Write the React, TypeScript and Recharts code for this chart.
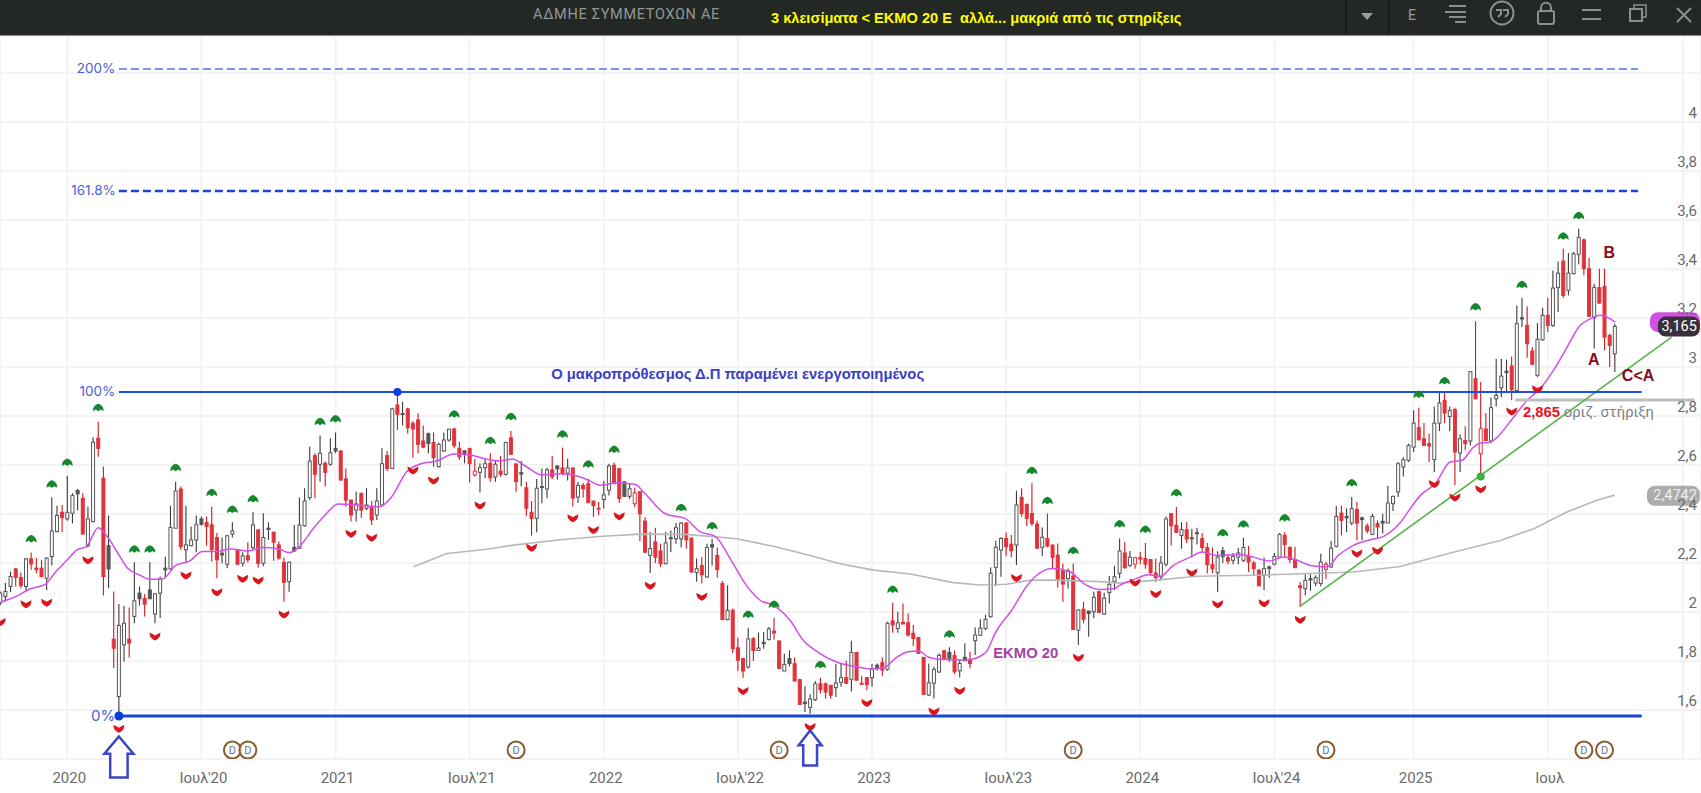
import React from 'react';
import {
  ComposedChart,
  Bar,
  Line,
  Scatter,
  XAxis,
  YAxis,
  CartesianGrid,
  ReferenceDot,
} from 'recharts';

// weekly candles: [open, high, low, close]
type Ohlc = [number, number, number, number];

const firstWeek = -13; // week 0 is the first week of 2020

const bars2020: Ohlc[] = [
  [2.036,2.084,2.029,2.077],[2.063,2.118,2.043,2.084],[2.104,2.165,2.081,2.145],[2.176,2.179,2.104,2.141],
  [2.141,2.161,2.097,2.108],[2.104,2.220,2.084,2.217],[2.217,2.243,2.172,2.196],[2.179,2.220,2.158,2.173],
  [2.179,2.213,2.141,2.145],[2.138,2.222,2.090,2.220],[2.226,2.468,2.190,2.331],[2.328,2.434,2.326,2.394],
  [2.407,2.437,2.326,2.385],[2.380,2.556,2.372,2.407],[2.403,2.485,2.362,2.475],[2.496,2.502,2.414,2.482],
  [2.464,2.485,2.318,2.318],[2.271,2.430,2.263,2.380],[2.369,2.713,2.366,2.693],[2.709,2.777,2.634,2.668],
  [2.546,2.594,2.067,2.145],[2.271,2.394,2.097,2.176],[1.889,2.084,1.771,1.852],[1.655,2.033,1.578,1.945],
  [1.866,2.026,1.798,1.954],[1.889,2.018,1.814,1.873],[1.982,2.203,1.954,2.046],[2.077,2.104,2.026,2.054],
  [2.056,2.073,1.982,2.032],[2.090,2.203,2.054,2.054],[1.992,2.077,1.954,2.074],[2.077,2.145,1.975,2.135],
  [2.179,2.226,2.138,2.172],[2.176,2.434,2.173,2.345],[2.342,2.532,2.342,2.494],[2.502,2.512,2.254,2.267],
  [2.254,2.434,2.199,2.274],[2.271,2.349,2.267,2.294],[2.294,2.394,2.244,2.356],[2.380,2.390,2.353,2.358],
  [2.365,2.390,2.271,2.349],[2.356,2.430,2.206,2.254],[2.304,2.322,2.138,2.213],[2.240,2.304,2.199,2.233],
  [2.195,2.315,2.179,2.311],[2.318,2.366,2.304,2.331],[2.254,2.258,2.192,2.195],[2.199,2.244,2.186,2.229],
  [2.230,2.285,2.202,2.213],[2.263,2.407,2.254,2.356],[2.335,2.339,2.181,2.199],[2.199,2.403,2.187,2.304],
  [2.342,2.366,2.294,2.337],[2.326,2.326,2.209,2.285],[2.274,2.288,2.213,2.220],
];

const bars2021: Ohlc[] = [
  [2.203,2.222,2.042,2.121],[2.124,2.206,2.083,2.203],[2.264,2.355,2.246,2.249],[2.260,2.467,2.257,2.355],
  [2.352,2.505,2.348,2.453],[2.467,2.675,2.457,2.616],[2.638,2.648,2.464,2.562],[2.603,2.720,2.532,2.648],
  [2.607,2.614,2.512,2.570],[2.603,2.709,2.597,2.650],[2.668,2.733,2.648,2.657],[2.657,2.660,2.535,2.539],
  [2.543,2.586,2.430,2.457],[2.457,2.457,2.369,2.396],[2.416,2.491,2.369,2.441],[2.484,2.488,2.385,2.416],
  [2.423,2.505,2.416,2.437],[2.426,2.453,2.355,2.376],[2.396,2.505,2.376,2.453],[2.437,2.668,2.434,2.605],
  [2.638,2.657,2.575,2.586],[2.586,2.834,2.586,2.829],[2.845,2.886,2.743,2.807],[2.810,2.858,2.761,2.808],
  [2.829,2.834,2.729,2.752],[2.770,2.780,2.630,2.747],[2.784,2.811,2.648,2.684],[2.698,2.761,2.668,2.673],
  [2.728,2.733,2.648,2.688],[2.692,2.733,2.593,2.630],[2.593,2.692,2.590,2.684],[2.657,2.733,2.654,2.702],
  [2.702,2.747,2.695,2.746],[2.747,2.752,2.668,2.679],[2.668,2.695,2.620,2.634],[2.658,2.658,2.607,2.645],
  [2.668,2.668,2.529,2.605],[2.559,2.624,2.552,2.575],[2.570,2.607,2.488,2.589],[2.589,2.624,2.546,2.605],
  [2.607,2.648,2.532,2.548],[2.551,2.616,2.532,2.603],[2.575,2.638,2.552,2.562],[2.562,2.695,2.556,2.692],
  [2.711,2.739,2.641,2.644],[2.604,2.607,2.491,2.532],[2.569,2.616,2.512,2.563],[2.507,2.532,2.393,2.423],
  [2.407,2.453,2.312,2.382],[2.382,2.543,2.325,2.505],[2.512,2.586,2.444,2.508],[2.502,2.589,2.464,2.580],
  [2.580,2.637,2.543,2.552],[2.596,2.600,2.541,2.584],
];

const bars2022: Ohlc[] = [
  [2.588,2.671,2.558,2.565],[2.567,2.626,2.537,2.588],[2.588,2.589,2.431,2.465],[2.469,2.531,2.445,2.517],
  [2.517,2.527,2.467,2.503],[2.524,2.544,2.445,2.446],[2.453,2.453,2.388,2.434],[2.424,2.449,2.395,2.420],
  [2.459,2.535,2.422,2.478],[2.497,2.605,2.476,2.596],[2.599,2.610,2.521,2.524],[2.585,2.585,2.445,2.463],
  [2.531,2.535,2.469,2.472],[2.472,2.524,2.461,2.503],[2.442,2.507,2.429,2.486],[2.491,2.493,2.290,2.401],
  [2.371,2.388,2.241,2.244],[2.231,2.327,2.159,2.259],[2.286,2.344,2.200,2.224],[2.249,2.279,2.184,2.197],
  [2.197,2.327,2.195,2.282],[2.303,2.333,2.245,2.299],[2.299,2.363,2.279,2.344],[2.299,2.367,2.263,2.363],
  [2.363,2.367,2.259,2.295],[2.302,2.303,2.161,2.163],[2.161,2.218,2.123,2.177],[2.190,2.224,2.116,2.152],
  [2.143,2.279,2.140,2.263],[2.275,2.299,2.190,2.265],[2.231,2.263,2.140,2.173],[2.116,2.127,1.969,1.969],
  [1.969,2.109,1.966,2.007],[2.007,2.014,1.833,1.850],[1.854,1.895,1.759,1.803],[1.810,1.810,1.732,1.759],
  [1.775,1.936,1.769,1.890],[1.891,1.898,1.800,1.843],[1.843,1.916,1.841,1.853],[1.876,1.918,1.850,1.871],
  [1.888,1.939,1.884,1.931],[1.922,1.977,1.887,1.914],[1.882,1.882,1.767,1.769],[1.759,1.830,1.759,1.786],
  [1.810,1.843,1.778,1.790],[1.789,1.814,1.718,1.718],[1.724,1.728,1.620,1.623],[1.632,1.697,1.592,1.626],
  [1.610,1.664,1.585,1.645],[1.642,1.718,1.637,1.707],[1.707,1.732,1.667,1.683],[1.707,1.712,1.646,1.673],
  [1.701,1.701,1.646,1.660],[1.691,1.789,1.653,1.710],
];

const bars2023: Ohlc[] = [
  [1.713,1.790,1.695,1.732],[1.732,1.801,1.709,1.709],[1.725,1.883,1.675,1.835],[1.835,1.835,1.719,1.722],
  [1.709,1.740,1.702,1.705],[1.732,1.733,1.681,1.703],[1.732,1.788,1.695,1.767],[1.783,1.790,1.760,1.770],
  [1.793,1.815,1.740,1.763],[1.766,1.960,1.760,1.954],[1.964,2.038,1.915,1.947],[1.933,2.001,1.915,1.956],
  [1.958,2.035,1.951,1.951],[1.956,1.994,1.899,1.906],[1.913,1.947,1.861,1.892],[1.896,1.896,1.831,1.831],
  [1.815,1.815,1.664,1.664],[1.661,1.790,1.657,1.711],[1.709,1.777,1.647,1.766],[1.755,1.831,1.752,1.823],
  [1.842,1.842,1.804,1.807],[1.835,1.856,1.797,1.810],[1.822,1.842,1.747,1.756],[1.760,1.807,1.733,1.790],
  [1.815,1.872,1.800,1.801],[1.807,1.838,1.770,1.790],[1.883,1.937,1.824,1.906],[1.905,1.970,1.902,1.934],
  [1.933,1.988,1.926,1.970],[1.981,2.182,1.978,2.158],[2.182,2.291,2.106,2.264],[2.253,2.305,2.144,2.300],
  [2.300,2.324,2.228,2.266],[2.277,2.314,2.223,2.250],[2.273,2.495,2.192,2.437],[2.468,2.505,2.389,2.402],
  [2.439,2.443,2.351,2.382],[2.402,2.525,2.351,2.362],[2.359,2.373,2.260,2.260],[2.264,2.345,2.228,2.305],
  [2.300,2.402,2.264,2.269],[2.273,2.277,2.178,2.223],[2.232,2.280,2.100,2.130],[2.168,2.198,2.042,2.114],
  [2.137,2.178,2.096,2.168],[2.147,2.198,1.929,1.929],[1.926,2.011,1.865,2.008],[2.011,2.042,1.954,1.970],
  [2.004,2.005,1.899,1.994],[2.001,2.083,1.974,2.060],[2.083,2.087,1.998,1.998],[1.992,2.079,1.988,2.056],
  [2.079,2.147,2.035,2.113],[2.124,2.189,2.090,2.144],[2.158,2.300,2.137,2.249],
];

const bars2024: Ohlc[] = [
  [2.241,2.286,2.177,2.181],[2.190,2.249,2.184,2.224],[2.195,2.224,2.177,2.222],[2.222,2.245,2.195,2.216],
  [2.218,2.282,2.177,2.195],[2.214,2.214,2.150,2.161],[2.159,2.218,2.122,2.140],[2.143,2.229,2.129,2.200],
  [2.195,2.390,2.186,2.380],[2.401,2.404,2.271,2.352],[2.354,2.429,2.322,2.325],[2.312,2.367,2.258,2.336],
  [2.336,2.367,2.282,2.298],[2.303,2.340,2.222,2.299],[2.324,2.344,2.276,2.320],[2.299,2.322,2.245,2.263],
  [2.263,2.282,2.157,2.193],[2.193,2.263,2.159,2.177],[2.160,2.248,2.082,2.224],[2.250,2.265,2.200,2.226],
  [2.222,2.234,2.195,2.208],[2.211,2.241,2.195,2.227],[2.224,2.261,2.195,2.241],[2.211,2.303,2.204,2.263],
  [2.227,2.269,2.163,2.204],[2.200,2.208,2.150,2.177],[2.170,2.177,2.107,2.107],[2.150,2.222,2.089,2.177],
  [2.184,2.190,2.140,2.178],[2.195,2.241,2.190,2.227],[2.224,2.322,2.222,2.317],[2.313,2.326,2.224,2.276],
  [2.263,2.268,2.200,2.214],[2.214,2.265,2.181,2.181],[2.107,2.122,2.020,2.099],[2.095,2.154,2.068,2.129],
  [2.136,2.154,2.086,2.131],[2.118,2.150,2.105,2.140],[2.116,2.238,2.105,2.204],[2.174,2.204,2.136,2.195],
  [2.184,2.290,2.181,2.261],[2.268,2.433,2.263,2.390],[2.404,2.435,2.313,2.374],[2.390,2.422,2.327,2.384],
  [2.363,2.469,2.354,2.422],[2.418,2.449,2.293,2.363],[2.384,2.390,2.293,2.377],[2.351,2.361,2.320,2.331],
  [2.317,2.401,2.313,2.390],[2.361,2.374,2.299,2.347],[2.370,2.401,2.320,2.363],[2.363,2.514,2.363,2.445],
  [2.442,2.476,2.412,2.472],[2.490,2.612,2.469,2.605],
];

const bars2025: Ohlc[] = [
  [2.592,2.632,2.553,2.622],[2.619,2.687,2.612,2.680],[2.673,2.823,2.653,2.771],[2.752,2.834,2.700,2.703],
  [2.707,2.771,2.680,2.680],[2.687,2.728,2.612,2.678],[2.622,2.839,2.571,2.771],[2.771,2.898,2.739,2.853],
  [2.864,2.894,2.771,2.812],[2.798,2.839,2.739,2.823],[2.826,2.834,2.517,2.653],[2.649,2.725,2.571,2.707],
  [2.700,2.758,2.660,2.687],[2.698,2.983,2.680,2.981],[2.952,3.187,2.870,2.870],[2.646,2.939,2.551,2.748],
  [2.747,2.812,2.698,2.700],[2.698,2.875,2.690,2.834],[2.870,3.034,2.839,2.884],[2.915,3.034,2.877,2.963],
  [2.983,3.030,2.898,2.977],[3.004,3.043,2.864,2.907],[2.904,3.251,2.898,3.177],[3.201,3.283,3.163,3.196],
  [3.170,3.247,3.038,3.095],[3.065,3.081,3.007,3.011],[2.966,3.179,2.959,3.113],[3.111,3.242,3.106,3.211],
  [3.211,3.283,3.143,3.170],[3.170,3.394,3.163,3.322],[3.324,3.431,3.224,3.383],[3.432,3.483,3.283,3.292],
  [3.313,3.465,3.292,3.383],[3.381,3.469,3.378,3.462],[3.460,3.564,3.419,3.528],[3.519,3.524,3.374,3.401],
  [3.401,3.446,3.204,3.207],[3.201,3.340,3.075,3.324],[3.324,3.401,3.258,3.261],[3.329,3.401,3.068,3.122],
  [3.129,3.136,3.000,3.088],[3.054,3.177,2.980,3.166],
];

// [week, value]
const ema20: [number, number][] = [
  [-13,2.040],[-9.3,2.070],[-7.4,2.093],[-4.3,2.113],[-2.2,2.165],[0,2.213],[1.8,2.253],[3.7,2.267],[6,2.344],
  [7.6,2.312],[9.6,2.247],[11.7,2.179],[14,2.151],[15.9,2.134],[18.5,2.135],[21,2.190],[23.7,2.208],[26.2,2.247],
  [28.8,2.247],[31.7,2.257],[35,2.249],[37.9,2.263],[41,2.257],[43,2.242],[45,2.267],[47.7,2.341],[50.3,2.403],
  [52.5,2.441],[56,2.437],[60.6,2.430],[62.9,2.471],[65.8,2.573],[68.4,2.604],[71.6,2.616],[74.9,2.645],[78.1,2.641],
  [81.3,2.624],[83.9,2.616],[86.2,2.624],[89,2.593],[92,2.559],[94.2,2.562],[95.5,2.564],[98.8,2.555],[101.3,2.535],
  [103.3,2.517],[106.5,2.528],[110,2.521],[112,2.483],[115.9,2.401],[119.8,2.381],[122.7,2.327],[125.6,2.309],
  [128.5,2.218],[131.4,2.116],[134.3,2.048],[136.9,2.027],[140.1,1.966],[142.7,1.884],[145,1.843],[149.5,1.793],
  [153,1.777],[156,1.767],[158.5,1.774],[160.5,1.811],[163,1.838],[165,1.841],[167,1.815],[169,1.807],[174.4,1.804],
  [178,1.834],[180,1.919],[183,2.005],[186,2.106],[188,2.151],[190.8,2.178],[194.4,2.164],[197,2.117],[200.2,2.092],
  [203,2.096],[204,2.109],[206.7,2.132],[209.6,2.152],[211.9,2.146],[214.4,2.190],[217.7,2.224],[220,2.245],
  [222.8,2.231],[227.4,2.235],[230,2.224],[232.9,2.208],[235.8,2.224],[238.4,2.211],[241,2.190],[244.2,2.184],
  [246.4,2.231],[249.3,2.272],[252.6,2.295],[255.2,2.309],[258.4,2.365],[260.3,2.421],[262.3,2.476],[265.2,2.524],
  [268.1,2.612],[270.4,2.619],[272.3,2.666],[273.6,2.687],[275.9,2.694],[280.4,2.796],[283,2.864],[285.5,2.911],
  [288.1,2.986],[290.4,3.068],[293.3,3.170],[294.9,3.193],[297.2,3.211],[300.1,3.183],
];

const ema200: [number, number][] = [
  [67.1,2.185],[73.6,2.239],[81.3,2.256],[86.5,2.273],[95.5,2.295],[103.9,2.309],[111,2.318],[120,2.317],[129.8,2.299],
  [137.5,2.265],[144,2.231],[149.8,2.197],[156.3,2.171],[163.4,2.155],[171.8,2.120],[177,2.110],[182.1,2.113],
  [186.6,2.130],[191.2,2.130],[200.2,2.124],[204,2.118],[210.6,2.129],[219,2.146],[230,2.150],[236.4,2.154],
  [249.3,2.163],[258.4,2.186],[262.9,2.211],[268.1,2.241],[277.8,2.292],[284.3,2.340],[290.7,2.408],[296.5,2.456],[300,2.477],
];

const trendLine: [number, number][] = [[239, 2.024], [311, 3.122]];
const supportLine: [number, number][] = [[280.7, 2.865], [315.4, 2.865]];

// fibonacci levels
const fibStart = 10;
const fibSolidEnd = 305.2;
const fibDashEnd = 304.5;
const fib0 = 1.5755;
const fib100 = 2.898;
const fib161 = 3.718;
const fib200 = 4.216;

// fractals above / below the candles: [week, value]
const fractalsUp: [number, number][] = [
  [-7,2.298],[-3,2.521],[0,2.610],[6,2.834],[13,2.256],[16,2.256],[21,2.589],[28,2.487],[32,2.418],[36,2.461],
  [49,2.777],[52,2.788],[75,2.807],[82,2.699],[86,2.797],[96,2.725],[101,2.603],[106,2.663],[119,2.425],[125,2.351],
  [132,1.990],[137,2.031],[146,1.785],[160,2.092],[171,1.909],[187,2.577],[190,2.454],[195,2.250],[204,2.359],
  [209,2.337],[215,2.486],[224,2.322],[228,2.358],[236,2.384],[249,2.527],[262,2.888],[267,2.943],[273,3.245],
  [282,3.336],[290,3.534],[293,3.617],
];
const fractalsDown: [number, number][] = [
  [-13,1.961],[-8,2.034],[-4,2.040],[4,2.213],[10,1.525],[17,1.902],[23,2.151],[29,2.083],[34,2.138],[37,2.131],
  [42,1.992],[55,2.321],[59,2.305],[67,2.580],[71,2.539],[80,2.437],[90,2.264],[98,2.385],[102,2.337],[107,2.393],
  [113,2.109],[123,2.064],[131,1.680],[144,1.533],[155,1.631],[168,1.596],[173,1.681],[184,2.141],[196,1.815],
  [207,2.122],[211,2.075],[218,2.163],[223,2.034],[232,2.038],[239,1.970],[250,2.241],[254,2.252],[265,2.524],
  [269,2.469],[274,2.503],[280,2.820],[285,2.911],
];

const dividendWeeks = [32, 35, 87, 138, 195, 244, 294, 298];
const dividendLevel = 1.437;

const timeTicks = [0, 26, 52, 78, 104, 130, 156, 182, 208, 234, 261, 287, 313.2];
const timeLabels = ['2020', "Ιουλ'20", '2021', "Ιουλ'21", '2022', "Ιουλ'22", '2023', "Ιουλ'23", '2024', "Ιουλ'24", '2025', 'Ιουλ', ''];
const priceTicks = [1.4, 1.6, 1.8, 2, 2.2, 2.4, 2.6, 2.8, 3, 3.2, 3.4, 3.6, 3.8, 4, 4.2];
const hiddenPriceTicks = [1.4, 4.2];

const title = 'ΑΔΜΗΕ ΣΥΜΜΕΤΟΧΩΝ ΑΕ';
const headline = '3 κλεισίματα < ΕΚΜΟ 20 Ε  αλλά... μακριά από τις στηρίξεις';

const candles = [...bars2020, ...bars2021, ...bars2022, ...bars2023, ...bars2024, ...bars2025].map((b, k, all) => ({
  i: firstWeek + k,
  open: b[0],
  high: b[1],
  low: b[2],
  close: b[3],
  prevClose: k > 0 ? all[k - 1][3] : b[0],
  range: [b[2], b[1]],
}));

const toPoints = (list: [number, number][]) => list.map(([i, v]) => ({ i, v }));
const flat = (v: number, end: number) => [{ i: fibStart, v }, { i: end, v }];

const LABEL_FONT = 'Roboto, sans-serif';
const FIB_FONT = 'Inter, sans-serif';
const BOLD_FONT = '"Liberation Sans", Arial, sans-serif';
const BODY_WIDTH = 3;

const Candle = (props: any) => {
  const { x, y, width, height, payload } = props;
  const { open, close, high, low, prevClose } = payload;
  const perUnit = height / (high - low);
  const cx = x + width / 2;
  const top = y + (high - Math.max(open, close)) * perUnit;
  const bottom = y + (high - Math.min(open, close)) * perUnit;
  const hollow = close > open;
  const red = close < prevClose;
  const wick = red ? '#d4141c' : '#3a3a3a';
  const body = red ? '#e0333b' : '#555555';
  return (
    <g>
      <line x1={cx} x2={cx} y1={y} y2={y + height} stroke={wick} strokeWidth={1.1} />
      <rect
        x={cx - BODY_WIDTH / 2}
        y={top}
        width={BODY_WIDTH}
        height={Math.max(bottom - top, 1)}
        fill={hollow ? '#ffffff' : body}
        stroke={body}
        strokeWidth={1}
      />
    </g>
  );
};

const UpMark = ({ cx, cy }: any) => (
  <path
    transform={`translate(${cx},${cy})`}
    d="M-5.5 3.5L-5 0.5C-4 -2 -2 -3.5 0 -4C2 -3.5 4 -2 5 0.5L5.5 3.5L2.5 1.8L0 3.5L-2.5 1.8Z"
    fill="#16872c"
  />
);

const DownMark = ({ cx, cy }: any) => (
  <path
    transform={`translate(${cx},${cy})`}
    d="M-5.5 -3.5L-2.5 -2L0 -0.5L2.5 -2L5.5 -3.5L5 0C4 2 2 3.5 0 4.5C-2 3.5 -4 2 -5 0Z"
    fill="#d8161e"
  />
);

const DividendMark = ({ cx, cy }: any) => (
  <g>
    <circle cx={cx} cy={cy} r={8.5} fill="#ffffff" fillOpacity={0.6} stroke="#8a5a2c" strokeWidth={2} />
    <text x={cx} y={cy + 4} textAnchor="middle" fontSize={11} fontFamily={LABEL_FONT} fill="#6a7590">D</text>
  </g>
);

const UpArrow = (week: number, value: number, w: number, h: number) => (
  <ReferenceDot
    key={`arrow-${week}`}
    x={week}
    y={value}
    r={0}
    ifOverflow="visible"
    shape={({ cx, cy }: any) => {
      const head = h * 0.42;
      const stem = w * 0.3;
      const t = cy - h / 2;
      const b = cy + h / 2;
      return (
        <path
          d={`M${cx} ${t}L${cx + w / 2} ${t + head}L${cx + stem} ${t + head}L${cx + stem} ${b}L${cx - stem} ${b}L${cx - stem} ${t + head}L${cx - w / 2} ${t + head}Z`}
          fill="#ffffff"
          stroke="#3a45c8"
          strokeWidth={2.5}
        />
      );
    }}
  />
);

const Note = (week: number, value: number, text: React.ReactNode, style: any) => (
  <ReferenceDot
    key={`${week}-${value}`}
    x={week}
    y={value}
    r={0}
    ifOverflow="visible"
    shape={({ cx, cy }: any) => (
      <text x={cx} y={cy} dominantBaseline="central" {...style}>{text}</text>
    )}
  />
);

const Pill = (value: number, text: string, fill: string, color: string, left: number, right: number) => (
  <ReferenceDot
    key={`pill-${value}`}
    x={313}
    y={value}
    r={0}
    ifOverflow="visible"
    shape={({ cx, cy }: any) => (
      <g>
        <rect x={cx - left} y={cy - 10} width={left + right} height={20} rx={8} fill={fill} />
        <text x={cx + right - 3} y={cy} textAnchor="end" dominantBaseline="central" fontSize={14.5} fontFamily={LABEL_FONT} fill={color}>{text}</text>
      </g>
    )}
  />
);

const PriceTick = ({ x, y, payload }: any) =>
  hiddenPriceTicks.includes(payload.value) ? null : (
    <text x={x + 4} y={y - 9} textAnchor="end" dominantBaseline="central" fontSize={15} fontFamily={LABEL_FONT} fill="#6b6b6b">
      {String(payload.value).replace('.', ',')}
    </text>
  );

const TimeTick = ({ x, y, payload }: any) => (
  <text x={x + 2} y={y + 16} textAnchor="middle" fontSize={15} fontFamily={LABEL_FONT} fill="#6b6b6b">
    {timeLabels[timeTicks.indexOf(payload.value)]}
  </text>
);

const fibStyle = { fontSize: 13.5, fontFamily: FIB_FONT, fill: '#4a5ee0', textAnchor: 'end' };
const darkRed = { fontSize: 16, fontWeight: 700, fontFamily: BOLD_FONT, fill: '#8a0a22', textAnchor: 'middle' };

const Header = () => (
  <div style={{ position: 'absolute', left: 0, top: 0, width: 1701, height: 36, background: '#232825', borderBottom: '1px solid #8a8f8c', boxSizing: 'border-box' }}>
    <div style={{ position: 'absolute', left: 533, top: 6, font: `14.5px ${LABEL_FONT}`, letterSpacing: 0.7, color: '#929795', whiteSpace: 'nowrap' }}>{title}</div>
    <div style={{ position: 'absolute', left: 771, top: 10, font: `bold 14.6px ${BOLD_FONT}`, color: '#ffff00', whiteSpace: 'pre' }}>{headline}</div>
    <svg width={1701} height={36} style={{ position: 'absolute', left: 0, top: 0 }} fill="none" stroke="#8c8f8d">
      <line x1={1346} x2={1346} y1={0} y2={35} stroke="#101311" />
      <line x1={1389} x2={1389} y1={0} y2={35} stroke="#101311" />
      <path d="M1361 13H1373L1367 20Z" fill="#9a9d9b" stroke="none" />
      <text x={1412} y={20} textAnchor="middle" fontSize={14} fontFamily={LABEL_FONT} fill="#9a9d9b" stroke="none">E</text>
      <path d="M1449 6H1466M1445 12H1466M1449 17H1466M1455 22H1466" strokeWidth={2} />
      <circle cx={1502} cy={13} r={11.5} strokeWidth={2} />
      <path d="M1496 10H1501V14L1498 17M1503 10H1508V14L1505 17" strokeWidth={2} />
      <rect x={1538} y={11} width={16} height={13} rx={2} strokeWidth={2} />
      <path d="M1541 11V8C1541 1 1551 1 1551 8V11" strokeWidth={2} />
      <path d="M1582 10H1601M1582 19H1601" strokeWidth={2} />
      <rect x={1630} y={9} width={12} height={12} strokeWidth={2} />
      <path d="M1634 9V5H1646V17H1642" strokeWidth={1.5} />
      <path d="M1677 8L1691 22M1691 8L1677 22" strokeWidth={2} />
    </svg>
  </div>
);

export default function App() {
  return (
    <div style={{ position: 'absolute', left: 0, top: 0, width: 1701, height: 793, background: '#ffffff', overflow: 'hidden' }}>
      <ComposedChart width={1701} height={793} data={candles} margin={{ top: 36, right: 0, bottom: 0, left: 0 }}>
        <CartesianGrid stroke="#f3f3f3" strokeWidth={2} />
        <XAxis
          dataKey="i"
          type="number"
          domain={[-13.05, 316.7]}
          allowDataOverflow
          ticks={timeTicks}
          interval={0}
          height={34}
          tickLine={false}
          axisLine={false}
          tick={TimeTick}
        />
        <YAxis
          orientation="right"
          mirror
          domain={[1.4, 4.351]}
          allowDataOverflow
          ticks={priceTicks}
          interval={0}
          tickLine={false}
          axisLine={false}
          tick={PriceTick}
        />

        <Line data={toPoints(ema200)} dataKey="v" stroke="#b8b8b8" strokeWidth={1.6} dot={false} isAnimationActive={false} />
        <Bar dataKey="range" barSize={5} shape={Candle} isAnimationActive={false} />
        <Line data={toPoints(ema20)} dataKey="v" type="monotone" stroke="#d24fe8" strokeWidth={1.5} dot={false} isAnimationActive={false} />

        <Line data={toPoints(supportLine)} dataKey="v" stroke="#bdbdbd" strokeWidth={3} dot={false} isAnimationActive={false} />
        <Line data={toPoints(trendLine)} dataKey="v" stroke="#56b447" strokeWidth={1.6} dot={false} isAnimationActive={false} />
        <Line data={flat(fib200, fibDashEnd)} dataKey="v" stroke="#7d94e8" strokeWidth={2} strokeDasharray="8 4" dot={false} isAnimationActive={false} />
        <Line data={flat(fib161, fibDashEnd)} dataKey="v" stroke="#1f42d8" strokeWidth={2.5} strokeDasharray="8 4" dot={false} isAnimationActive={false} />
        <Line data={flat(fib100, fibSolidEnd)} dataKey="v" stroke="#1f4de0" strokeWidth={2} dot={false} isAnimationActive={false} />
        <Line data={flat(fib0, fibSolidEnd)} dataKey="v" stroke="#1b46dc" strokeWidth={3} dot={false} isAnimationActive={false} />

        <Scatter data={toPoints(fractalsUp)} dataKey="v" shape={UpMark} isAnimationActive={false} />
        <Scatter data={toPoints(fractalsDown)} dataKey="v" shape={DownMark} isAnimationActive={false} />
        <Scatter data={dividendWeeks.map((i) => ({ i, v: dividendLevel }))} dataKey="v" shape={DividendMark} isAnimationActive={false} />

        {UpArrow(10, 1.408, 29, 41)}
        {UpArrow(144, 1.445, 23, 35)}

        <ReferenceDot x={10} y={fib0} r={4.5} fill="#0a3be0" stroke="none" />
        <ReferenceDot x={64} y={fib100} r={4} fill="#0a3be0" stroke="none" />
        <ReferenceDot x={274} y={2.553} r={4} fill="#3cb040" stroke="none" />

        {Note(9.3, fib200 + 0.005, '200%', fibStyle)}
        {Note(9.4, fib161 + 0.005, '161.8%', fibStyle)}
        {Note(9.3, fib100 + 0.003, '100%', fibStyle)}
        {Note(9.3, fib0 + 0.003, '0%', { ...fibStyle, fontSize: 15 })}
        {Note(93.8, 2.971, 'Ο μακροπρόθεσμος Δ.Π παραμένει ενεργοποιημένος', { fontSize: 14.8, fontWeight: 700, fontFamily: BOLD_FONT, fill: '#3a3ec4' })}
        {Note(179.5, 1.833, 'ΕΚΜΟ 20', { fontSize: 14.8, fontWeight: 700, fontFamily: BOLD_FONT, fill: '#a43fa8' })}
        {Note(295.9, 3.03, 'A', darkRed)}
        {Note(298.9, 3.469, 'B', darkRed)}
        {Note(304.5, 2.967, 'C<A', darkRed)}
        {Note(282.2, 2.816, (
          <>
            <tspan fontWeight={700} fontFamily={BOLD_FONT} fill="#f01024">2,865</tspan>
            <tspan fill="#7f7f7f"> οριζ. στήριξη</tspan>
          </>
        ), { fontSize: 14.8, fontFamily: LABEL_FONT })}

        {Pill(3.183, '', '#d050e8', '#ffffff', 32, 18)}
        {Pill(3.165, '3,165', '#3a2f3a', '#ffffff', 24, 18)}
        {Pill(2.4742, '2,4742', '#acacac', '#f0f0f0', 35, 18)}
      </ComposedChart>
      <Header />
    </div>
  );
}
